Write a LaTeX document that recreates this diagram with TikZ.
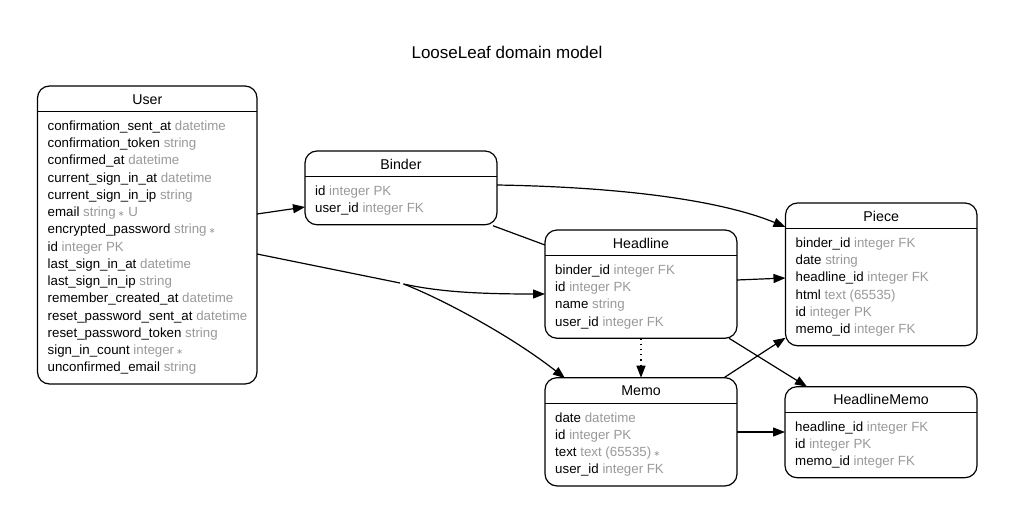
\documentclass[tikz,border=0pt]{standalone}
\usepackage{fontspec}
\setmainfont{Liberation Sans}
\newfontfamily\djv{DejaVu Sans}
\usetikzlibrary{arrows.meta,calc}
\definecolor{gray6}{HTML}{999999}
\newcommand\req{\,{\djv\fontsize{8}{8}\selectfont ∗}}
\newcommand\erdentity[7]{%
  \pgfmathsetmacro\enth{56.5+17.25*(#5-1)}%
  \node[entity, minimum width=#4pt, minimum height=\enth pt, anchor=north west] (#1) at (#2,#3) {};
  \draw[sepline] ($(#1.north west)+(0,25.5)$) -- ($(#1.north east)+(0,25.5)$);
  \path (#1.north) ++(0,18) node[hdr, anchor=base] (#1-title) {#6};
  \foreach \fn/\ft [count=\i] in {#7} {
    \path (#1.north west) ++(10,{25.5+14.3+17.25*(\i-1)+4.6}) node[fld, anchor=base west] (#1-\i) {\fn\ {\color{gray6}\ft}};
  }
}
\tikzset{
  entity/.style={draw, line width=1.2pt, rounded corners=12pt, inner sep=0pt, outer sep=0pt},
  sepline/.style={line width=1.2pt},
  hdr/.style={font=\fontsize{14.2}{16}\selectfont, inner sep=0pt},
  fld/.style={font=\fontsize{13.3}{15}\selectfont, inner sep=0pt},
  arr/.style={line width=1.2pt, -{Triangle[length=12pt,width=9pt]}},
  plain/.style={line width=1.2pt},
}
\begin{document}
\begin{tikzpicture}[x=1pt,y=-1pt]
\useasboundingbox (0,0) rectangle (1015,525);
\node[font=\fontsize{17}{20}\selectfont, anchor=base, inner sep=0pt] (title) at (507,58.5) {LooseLeaf domain model};

\erdentity{user}{37.5}{86}{219.5}{15}{User}{confirmation\_sent\_at/datetime, confirmation\_token/string, confirmed\_at/datetime, current\_sign\_in\_at/datetime, current\_sign\_in\_ip/string, email/string\req\ U, encrypted\_password/string\req, id/integer PK, last\_sign\_in\_at/datetime, last\_sign\_in\_ip/string, remember\_created\_at/datetime, reset\_password\_sent\_at/datetime, reset\_password\_token/string, sign\_in\_count/integer\req, unconfirmed\_email/string}

\erdentity{binder}{305}{151}{192}{2}{Binder}{id/integer PK, user\_id/integer FK}

\erdentity{headline}{545}{230}{192}{4}{Headline}{binder\_id/integer FK, id/integer PK, name/string, user\_id/integer FK}

\erdentity{piece}{785.5}{203}{191.5}{6}{Piece}{binder\_id/integer FK, date/string, headline\_id/integer FK, html/text (65535), id/integer PK, memo\_id/integer FK}

\erdentity{memo}{545}{377.7}{192}{4}{Memo}{date/datetime, id/integer PK, text/text (65535)\req, user\_id/integer FK}

\erdentity{hm}{785}{386.7}{192}{3}{HeadlineMemo}{headline\_id/integer FK, id/integer PK, memo\_id/integer FK}

% connectors
\draw[arr] (user.east |- 0,214) -- (binder.west |- 0,207);
\coordinate (split) at (400,283);
\coordinate (split2) at (403.5,284);
\draw[plain] (user.east |- 0,254) -- (split);
\draw[arr] (split2) .. controls (440,292) and (480,294) .. (headline.west |- 0,294);
\draw[arr] (split2) .. controls (440,298) and (510,335) .. ($(memo.north west)+(20,0.5)$);
\draw[arr] (binder.east |- 0,185) .. controls (620,187) and (720,200) .. ($(piece.north west)+(0,24)$);
\draw[plain] ($(binder.south east)+(-4,1)$) -- (headline.west |- 0,245);
\draw[arr] (headline.east |- 0,280) -- (piece.west |- 0,278);
\draw[arr, dash pattern=on 1.3pt off 4pt] (headline.south) -- (memo.north);
\draw[arr] ($(headline.south east)+(-8,0)$) -- ($(hm.north west)+(22,0)$);
\draw[arr] ($(memo.north east)+(-13,0)$) -- ($(piece.south west)+(0,-8)$);
\draw[arr] (memo.east |- 0,432) -- (hm.west |- 0,432);
\end{tikzpicture}
\end{document}
